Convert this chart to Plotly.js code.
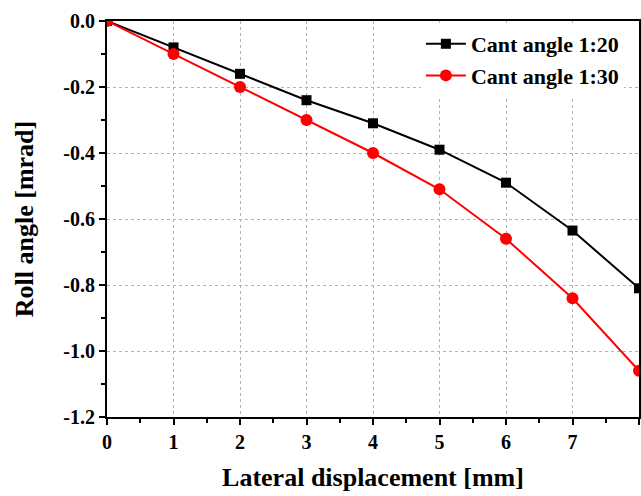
<!DOCTYPE html>
<html>
<head>
<meta charset="utf-8">
<script src="https://cdn.plot.ly/plotly-3.0.1.min.js"></script>
<style>html,body{margin:0;padding:0;background:#fff;}#chart{width:641px;height:496px;}</style>
</head>
<body>
<div id="chart"></div>
<script>
const lateralDisp = [0, 1, 2, 3, 4, 5, 6, 7, 8];
const cant20 = [0, -0.08, -0.16, -0.24, -0.31, -0.39, -0.49, -0.635, -0.81];
const cant30 = [0, -0.10, -0.20, -0.30, -0.40, -0.51, -0.66, -0.84, -1.06];
const yTickVals = [0, -0.2, -0.4, -0.6, -0.8, -1.0, -1.2];
const yTickText = ["0.0", "-0.2", "-0.4", "-0.6", "-0.8", "-1.0", "-1.2"];
const xTickVals = [0, 1, 2, 3, 4, 5, 6, 7, 8];

const fontFam = "Liberation Serif, Times New Roman, serif";

const traces = [
  {x: lateralDisp, y: cant20, name: "Cant angle 1:20", mode: "lines+markers",
   line: {color: "#000000", width: 2}, marker: {symbol: "square", size: 10, color: "#000000"}},
  {x: lateralDisp, y: cant30, name: "Cant angle 1:30", mode: "lines+markers",
   line: {color: "#ff0000", width: 2}, marker: {symbol: "circle", size: 12, color: "#ff0000"}}
];

const axisCommon = {
  showline: true, linecolor: "#000", linewidth: 2, mirror: true,
  ticks: "outside", ticklen: 6, tickwidth: 2, tickcolor: "#000",
  showgrid: true, gridcolor: "#b4b4b4", griddash: "dot", gridwidth: 1,
  zeroline: false,
  tickfont: {family: fontFam, size: 20, color: "#000", weight: "bold"}
};

const layout = {
  width: 641, height: 496,
  margin: {l: 107, r: 2, t: 21, b: 79},
  paper_bgcolor: "#fff", plot_bgcolor: "#fff",
  font: {family: fontFam, color: "#000"},
  xaxis: Object.assign({}, axisCommon, {
    range: [0, 8], tickvals: xTickVals, ticktext: xTickVals.map(String),
    minor: {ticks: "outside", ticklen: 4, tickwidth: 2, tickcolor: "#000", dtick: 0.5, showgrid: false},
    title: {text: "Lateral displacement [mm]", font: {family: fontFam, size: 26, color: "#000", weight: "bold"}, standoff: 16}
  }),
  yaxis: Object.assign({}, axisCommon, {
    range: [-1.2, 0], tickvals: yTickVals, ticktext: yTickText,
    minor: {ticks: "outside", ticklen: 4, tickwidth: 2, tickcolor: "#000", dtick: 0.1, showgrid: false},
    title: {text: "Roll angle [mrad]", font: {family: fontFam, size: 26, color: "#000", weight: "bold"}, standoff: 22}
  }),
  showlegend: true,
  legend: {x: 0.59, y: 0.995, xanchor: "left", yanchor: "top", bgcolor: "rgba(255,255,255,1)",
    borderwidth: 0, itemwidth: 40, font: {family: fontFam, size: 22, color: "#000", weight: "bold"}, tracegroupgap: 0}
};

Plotly.newPlot("chart", traces, layout, {displayModeBar: false, staticPlot: true});
</script>
</body>
</html>
